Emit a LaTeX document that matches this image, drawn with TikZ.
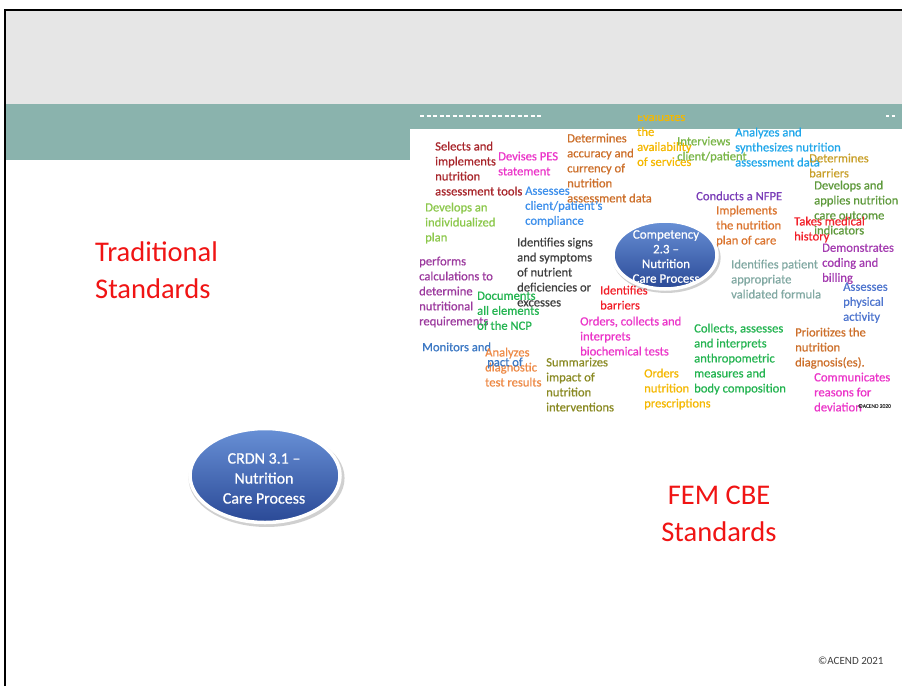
\documentclass[tikz,border=0pt]{standalone}
\usepackage{fontspec}
\setmainfont{Carlito}
\newfontfamily\cloudfont{Carlito}[FakeBold=0.6, Ligatures=TeX]
\usetikzlibrary{shapes.geometric,shadows}
\definecolor{hdrgray}{HTML}{E6E6E6}
\definecolor{teal}{HTML}{8AB3AD}
\definecolor{stdred}{HTML}{F01414}
\definecolor{bubtop}{HTML}{6890D6}
\definecolor{bubbot}{HTML}{2A4996}
\definecolor{cDarkRed}{HTML}{A8252B}
\definecolor{cMagenta}{HTML}{EC35C9}
\definecolor{cBrown}{HTML}{CD6F2A}
\definecolor{cBlue}{HTML}{3E90EC}
\definecolor{cLightGreen}{HTML}{8CC84B}
\definecolor{cYellow}{HTML}{F5B800}
\definecolor{cGreen}{HTML}{7AB648}
\definecolor{cCyan}{HTML}{1EA6EA}
\definecolor{cGold}{HTML}{C9A02A}
\definecolor{cOlive}{HTML}{5F9A3C}
\definecolor{cPurple}{HTML}{7A3DB8}
\definecolor{cOrange}{HTML}{DB742E}
\definecolor{cRed}{HTML}{F2202A}
\definecolor{cGray}{HTML}{3F3F3F}
\definecolor{cPlum}{HTML}{9C3A9E}
\definecolor{cEmerald}{HTML}{23B450}
\definecolor{cTealGray}{HTML}{82A9A3}
\definecolor{cViolet}{HTML}{A43CB0}
\definecolor{cSteel}{HTML}{4F76CF}
\definecolor{cKhaki}{HTML}{8A8A23}
\definecolor{cPeach}{HTML}{EE8A46}
\definecolor{cMonitor}{HTML}{3C78C4}
\begin{document}
\begin{tikzpicture}[x=1pt,y=-1pt,
  wc/.style={anchor=north west, inner sep=0pt, align=left, yshift=-1pt,
    font=\cloudfont\fontsize{12.6}{15}\selectfont, execute at begin node=\strut},
  bigtext/.style={inner sep=0pt, text=stdred,
    font=\fontsize{28.5}{37}\selectfont, execute at begin node=\strut},
  bubble/.style={ellipse, inner sep=0pt, draw=white, line width=3.5pt,
    top color=bubtop, bottom color=bubbot,
    drop shadow={shadow xshift=1.5pt, shadow yshift=-2.5pt, shadow scale=1.04, opacity=0.3, fill=black!60}},
  bubtext/.style={inner sep=0pt, text=white, align=center, anchor=north}]
\useasboundingbox (0,0) rectangle (902,686);
\fill[white] (0,0) rectangle (902,686);
% slide header
\fill[hdrgray] (6,11) rectangle (902,104);
\fill[teal] (6,104) rectangle (902,129);
\fill[teal] (6,129) rectangle (410,160);
\draw[white, line width=1.3pt, dash pattern=on 4pt off 2.5pt] (420,116) -- (541,116);
\draw[white, line width=1.5pt, dash pattern=on 3pt off 2.5pt] (886,116) -- (896,116);
\draw[black, line width=2.5pt] (5,686) -- (5,9.75) -- (902,9.75);

% word cloud
\begin{scope}
\clip (600,115.5) rectangle (720,175);
\node[wc, text=cYellow] (w6) at (637,111) {Evaluates\\the\\availability\\of services};
\end{scope}
\node[wc, text=cDarkRed] (w1) at (435,140.5) {Selects and\\implements\\nutrition\\assessment tools};
\node[wc, text=cMagenta] (w2) at (498,150.5) {Devises PES\\statement};
\node[wc, text=cBrown] (w3) at (567,132.5) {Determines\\accuracy and\\currency of\\nutrition\\assessment data};
\node[wc, text=cBlue] (w4) at (525,185.5) {Assesses\\client/patient's\\compliance};
\node[wc, text=cLightGreen] (w5) at (425,201.5) {Develops an\\individualized\\plan};
\node[wc, text=cGreen] (w7) at (677,135.5) {Interviews\\client/patient};
\node[wc, text=cCyan] (w8) at (735,126.5) {Analyzes and\\synthesizes nutrition\\assessment data};
\node[wc, text=cGold] (w9) at (809,152.5) {Determines\\barriers};
\node[wc, text=cOlive] (w10) at (814,179.5) {Develops and\\applies nutrition\\care outcome\\indicators};
\node[wc, text=cPurple] (w11) at (696,188.5) {Conducts a NFPE};
\node[wc, text=cOrange] (w12) at (716,204.5) {Implements\\the nutrition\\plan of care};
\node[wc, text=cRed] (w13) at (794,215.5) {Takes medical\\history};
\node[wc, text=cPlum] (w15) at (419,255.5) {performs\\calculations to\\determine\\nutritional\\requirements};
\node[wc, text=cGray] (w16) at (517,236.5) {Identifies signs\\and symptoms\\of nutrient\\deficiencies or\\excesses};
\node[wc, text=cEmerald] (w17) at (477,290.5) {Documents\\all elements\\of the NCP};
\node[wc, text=cRed] (w18) at (600,284.5) {Identifies\\barriers};
\node[wc, text=cMagenta] (w19) at (580,315.5) {Orders, collects and\\interprets\\biochemical tests};
\node[wc, text=cTealGray] (w20) at (731,258.5) {Identifies patient\\appropriate\\validated formula};
\node[wc, text=cViolet] (w21) at (822,242.5) {Demonstrates\\coding and\\billing};
\node[wc, text=cSteel] (w22) at (843,281.5) {Assesses\\physical\\activity};
\node[wc, text=cEmerald] (w23) at (694,322.5) {Collects, assesses\\and interprets\\anthropometric\\measures and\\body composition};
\node[wc, text=cBrown] (w24) at (795,326.5) {Prioritizes the\\nutrition\\diagnosis(es).};
\node[wc, text=cMagenta] (w25) at (814,371.5) {Communicates\\reasons for\\deviation};
\node[anchor=base west, inner sep=0pt, text=cGray, font=\cloudfont\fontsize{5.5}{6}\selectfont] (w26) at (858,407.8) {©ACEND 2020};
\node[wc, text=cYellow] (w27) at (644,367.5) {Orders\\nutrition\\prescriptions};
\node[wc, text=cKhaki] (w28) at (546,356.5) {Summarizes\\impact of\\nutrition\\interventions};
\node[wc, text=cMonitor] (w30) at (422,339.5) {Monitors and};
\node[wc, text=cPeach] (w29) at (485,346.5) {Analyzes\\diagnostic\\test results};
\node[wc, text=cMonitor] (w31) at (487,354.5) {pact of};

% competency bubble
\node[bubble, minimum width=104pt, minimum height=68pt] (comp) at (665,255) {};
\node[bubtext, font=\cloudfont\fontsize{13}{14.7}\selectfont, execute at begin node=\strut] (comptext) at (666,230) {Competency\\2.3 –\\Nutrition\\Care Process};

% left and right titles
\node[bigtext, anchor=north west, align=left] (trad) at (95,241.5) {Traditional\\Standards};
\node[bigtext, anchor=north, align=center] (fem) at (719,486) {FEM CBE\\Standards};

% CRDN bubble
\node[bubble, minimum width=150pt, minimum height=94pt] (crdn) at (265,475.5) {};
\node[bubtext, font=\cloudfont\fontsize{16}{20}\selectfont, execute at begin node=\strut] (crdntext) at (264,453) {CRDN 3.1 –\\Nutrition\\Care Process};

\node[anchor=base west, inner sep=0pt, text=cGray, font=\fontsize{11}{13}\selectfont] (copy) at (818,664.5) {©ACEND 2021};
\end{tikzpicture}
\end{document}
